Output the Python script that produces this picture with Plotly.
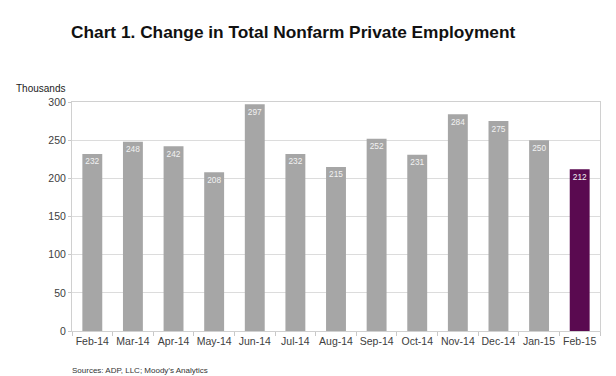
import plotly.graph_objects as go

months = ["Feb-14", "Mar-14", "Apr-14", "May-14", "Jun-14", "Jul-14", "Aug-14",
          "Sep-14", "Oct-14", "Nov-14", "Dec-14", "Jan-15", "Feb-15"]
values = [232, 248, 242, 208, 297, 232, 215, 252, 231, 284, 275, 250, 212]
y_ticks = [0, 50, 100, 150, 200, 250, 300]

colors = ["#A6A6A6"] * (len(months) - 1) + ["#5A0A50"]

FONT = "Liberation Sans, Arial, sans-serif"

fig = go.Figure(go.Bar(
    x=months, y=values,
    marker=dict(color=colors, line=dict(width=0)),
    width=0.49,
    text=[str(v) for v in values],
    textposition="inside",
    insidetextanchor="end",
    textfont=dict(family=FONT, size=11, color="#F2F2F2"),
    textangle=0,
    cliponaxis=False,
))

fig.update_layout(
    width=616, height=376,
    margin=dict(l=64, r=24, t=94, b=53),
    paper_bgcolor="white", plot_bgcolor="white",
    showlegend=False,
    font=dict(family=FONT, color="#404040", size=10),
    uniformtext=dict(minsize=8, mode="show"),
)
fig.update_xaxes(
    type="category",
    showline=True, linecolor="#D0D0D0", mirror=True, linewidth=1,
    ticks="outside", tickson="boundaries", ticklen=4, tickcolor="#C8C8C8",
    tickfont=dict(size=10.5, color="#404040"), tickangle=0,
    showgrid=False,
)
fig.update_yaxes(
    range=[0, 300], tickvals=y_ticks,
    showline=True, linecolor="#D0D0D0", mirror=True, linewidth=1,
    showgrid=True, gridcolor="#DCDCDC", gridwidth=1,
    ticks="outside", ticklen=3, tickcolor="#C8C8C8",
    tickfont=dict(size=10.5, color="#404040"),
    zeroline=False,
)

fig.add_annotation(text="<b>Chart 1. Change in Total Nonfarm Private Employment</b>",
                   xref="paper", yref="paper", x=0, y=1.0, xshift=-3, yshift=70,
                   xanchor="left", yanchor="middle", showarrow=False,
                   font=dict(family=FONT, size=17.3, color="#111111"))
fig.add_annotation(text="Thousands", xref="paper", yref="paper",
                   x=0, y=1.0, xshift=-5, yshift=14, xanchor="right", yanchor="middle",
                   showarrow=False, font=dict(size=10, color="#222222"))
fig.add_annotation(text="Sources: ADP, LLC; Moody\u2019s Analytics", xref="paper", yref="paper",
                   x=0, y=0, xshift=-2, yshift=-39, xanchor="left", yanchor="middle",
                   showarrow=False, font=dict(size=8, color="#333333"))

fig.write_html("out.html")
